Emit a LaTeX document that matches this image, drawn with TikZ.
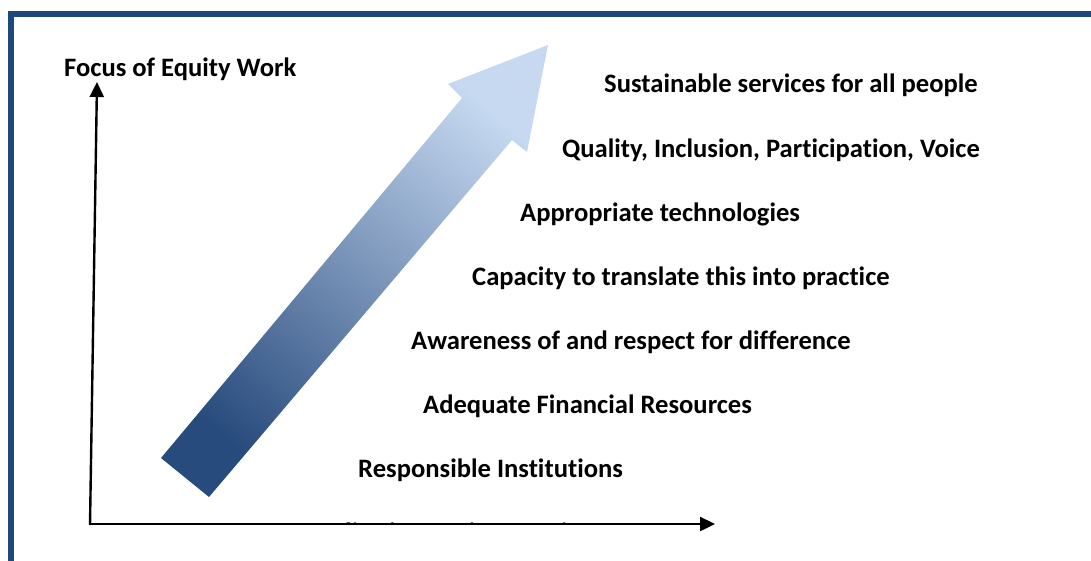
\documentclass[tikz,border=0pt]{standalone}
\usepackage{fontspec}
\setmainfont{Carlito}[RawFeature=-liga]
\usetikzlibrary{arrows.meta}
\definecolor{frameblue}{HTML}{1F497D}
\definecolor{arrowdark}{HTML}{284B7D}
\definecolor{arrowlight}{HTML}{C6D9F1}
\tikzset{
  lbl/.style={font=\bfseries\fontsize{26.6}{30}\selectfont, anchor=base west, inner sep=0pt, text=black},
  axis/.style={line width=2.4pt, -{Triangle[length=15pt,width=14pt]}}
}
\begin{document}
\begin{tikzpicture}[x=1pt,y=-1pt]
\useasboundingbox (0,0) rectangle (1091,560);
\clip (0,0) rectangle (1091,560);
\fill[white] (0,0) rectangle (1091,560);
% frame
\draw[frameblue, line width=6pt] (11,14) rectangle (1110,580);
% big arrow
\shade[top color=arrowlight, bottom color=arrowdark, shading angle=-40]
  (161,458) -- (462,98) -- (448,84) -- (548,45) -- (527,152) -- (512,140) -- (209,497) -- cycle;
% hidden x label (clipped by axis)
\begin{scope}
\clip (0,0) rectangle (1091,522.5);
\node[lbl] (xlab) at (317,541.5) {Policy/strategic commitment};
\end{scope}
% axes
\coordinate (origin) at (90,524);
\coordinate (ytip) at (97,82);
\coordinate (xtip) at (715,524);
\draw[axis] ([yshift=-1.2pt]origin) -- (ytip);
\draw[axis] ([xshift=-1.2pt]origin) -- (xtip);
% labels
\node[lbl] (ylab) at (64,76) {Focus of Equity Work};
\node[lbl] (l1) at (604,92) {Sustainable services for all people};
\node[lbl] (l2) at (562,157) {Quality, Inclusion, Participation, Voice};
\node[lbl] (l3) at (520,221) {Appropriate technologies};
\node[lbl] (l4) at (472,285) {Capacity to translate this into practice};
\node[lbl] (l5) at (411,349) {Awareness of and respect for difference};
\node[lbl] (l6) at (423,413) {Adequate Financial Resources};
\node[lbl] (l7) at (358,477) {Responsible Institutions};
\end{tikzpicture}
\end{document}
